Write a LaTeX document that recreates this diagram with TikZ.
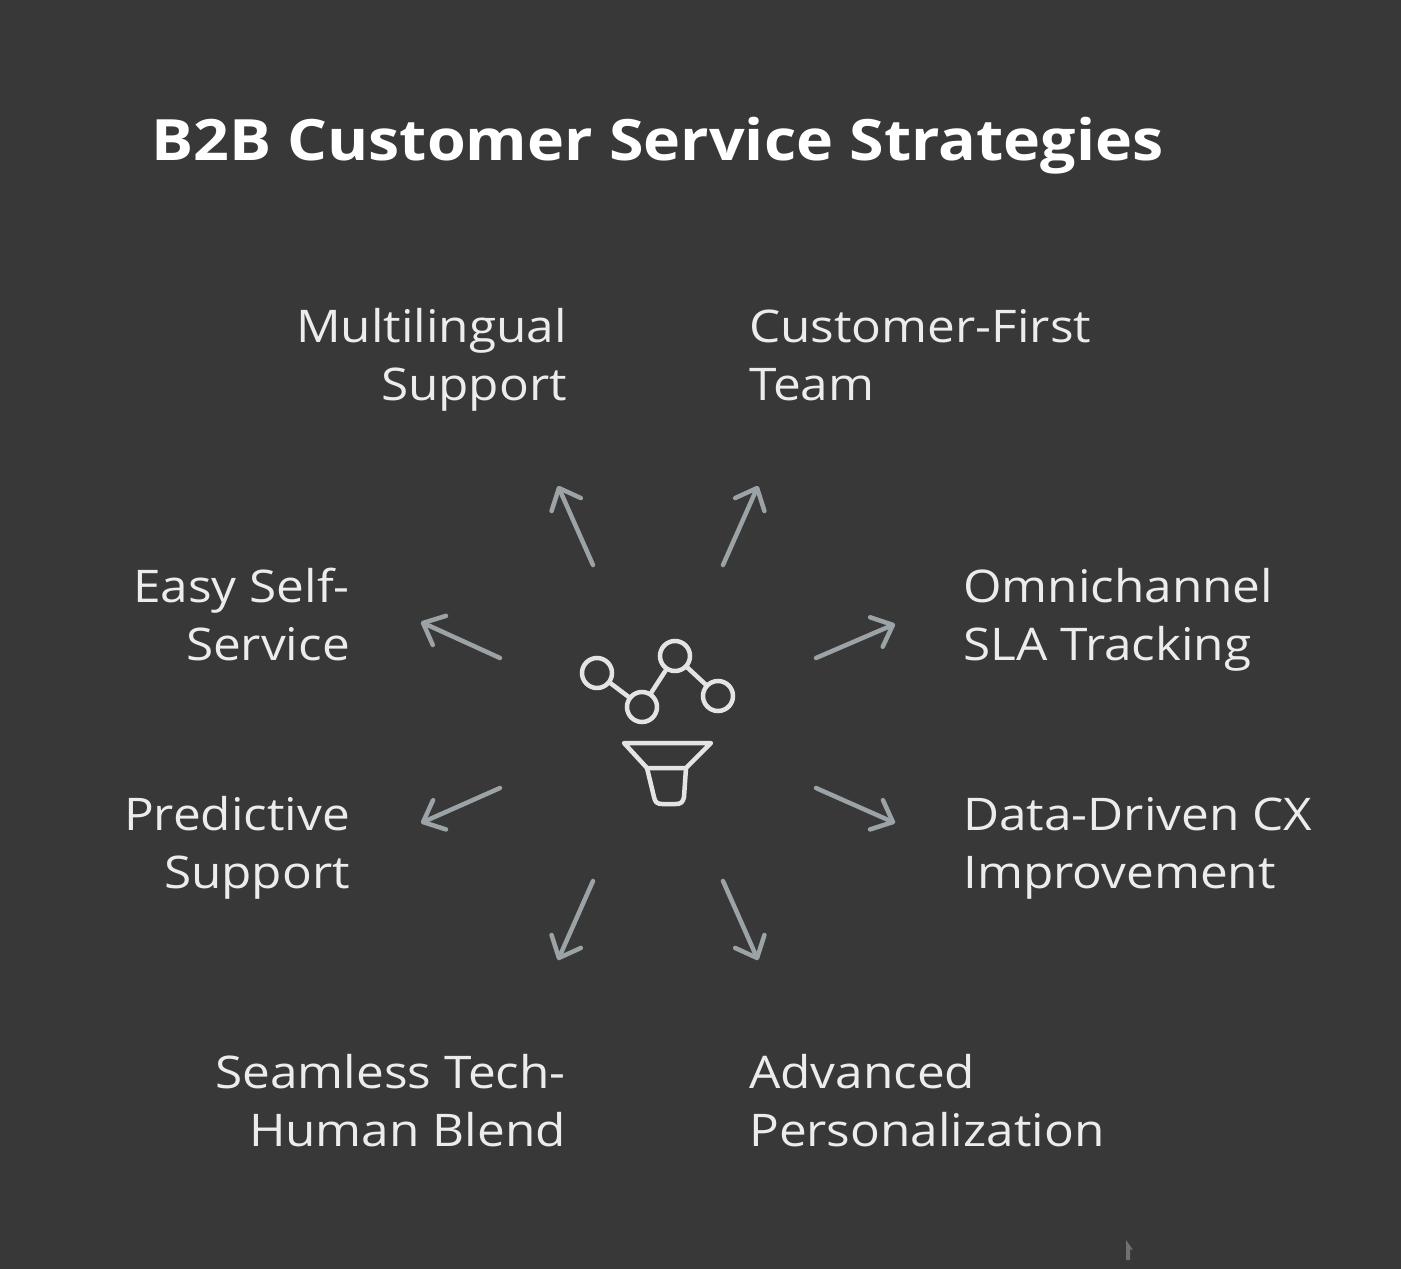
\documentclass[tikz,border=0pt]{standalone}
\usepackage{fontspec}
\setmainfont[Ligatures=NoCommon,FakeStretch=1.1]{Open Sans}
\usetikzlibrary{arrows.meta}
\definecolor{bg}{HTML}{383838}
\definecolor{ink}{HTML}{ECECEC}
\definecolor{arrowc}{HTML}{9BA3A6}
\definecolor{icon}{HTML}{E4E4E4}
\tikzset{
  x=1pt,y=-1pt,
  lab/.style={text=ink,font=\fontsize{45}{58}\selectfont,inner sep=0pt},
  labr/.style={lab,align=right,anchor=east},
  labl/.style={lab,align=left,anchor=west},
  spoke/.style={draw=arrowc,line width=4.5pt,line cap=round,line join=round,-{Straight Barb[length=18pt,width=32pt,line width=4.5pt,round]}},
  iconline/.style={draw=icon,line width=4.5pt,line cap=round,line join=round},
  dot/.style={circle,draw=icon,line width=4.5pt,minimum size=30pt,inner sep=0pt},
}
\begin{document}
\begin{tikzpicture}
\useasboundingbox[fill=bg] (0,0) rectangle (1401,1269);
\node[text=white,font=\fontsize{57}{70}\selectfont\bfseries,inner sep=0pt,anchor=base west] (title) at (151,160) {B2B Customer Service Strategies};
\node[labr] (ml) at (567,360) {\strut Multilingual\\\strut Support};
\node[labl] (cf) at (749,360) {\strut Customer-First\\\strut Team};
\node[labr] (es) at (350,620) {\strut Easy Self-\\\strut Service};
\node[labl] (om) at (963,620) {\strut Omnichannel\\\strut SLA Tracking};
\node[labr] (pr) at (350,848) {\strut Predictive\\\strut Support};
\node[labl] (dd) at (963,848) {\strut Data-Driven CX\\\strut Improvement};
\node[labr] (se) at (566,1106) {\strut Seamless Tech-\\\strut Human Blend};
\node[labl] (ad) at (749,1106) {\strut Advanced\\\strut Personalization};
% spokes
\coordinate (a1s) at (593,565); \coordinate (a1e) at (558,486);
\coordinate (a2s) at (723,565); \coordinate (a2e) at (758,486);
\coordinate (a3s) at (500,658); \coordinate (a3e) at (421,622);
\coordinate (a4s) at (816,658); \coordinate (a4e) at (895,624);
\coordinate (a5s) at (500,788); \coordinate (a5e) at (421,823);
\coordinate (a6s) at (816,788); \coordinate (a6e) at (895,823);
\coordinate (a7s) at (593,881); \coordinate (a7e) at (558,960);
\coordinate (a8s) at (723,881); \coordinate (a8e) at (758,960);
\foreach \i in {1,...,8}{\draw[spoke] (a\i s) -- (a\i e);}
% icon
\node[dot] (d1) at (597,673) {};
\node[dot] (d2) at (642,707) {};
\node[dot] (d3) at (675,656) {};
\node[dot] (d4) at (718,696) {};
\draw[iconline] (d1) -- (d2);
\draw[iconline] (d2) -- (d3);
\draw[iconline] (d3) -- (d4);
\draw[iconline] (624,743) -- (711,743) -- (686,768) -- (647,768) -- cycle;
\draw[iconline] (647,768) -- (654,797) .. controls (655,802) and (657,804) .. (662,804) -- (676,804) .. controls (681,804) and (683,802) .. (684,797) -- (686,768);
% cursor
\fill[gray!80!bg] (1126,1240) -- (1133,1250) -- (1130,1249) -- (1130,1260) -- (1126,1260) -- cycle;
\end{tikzpicture}
\end{document}
